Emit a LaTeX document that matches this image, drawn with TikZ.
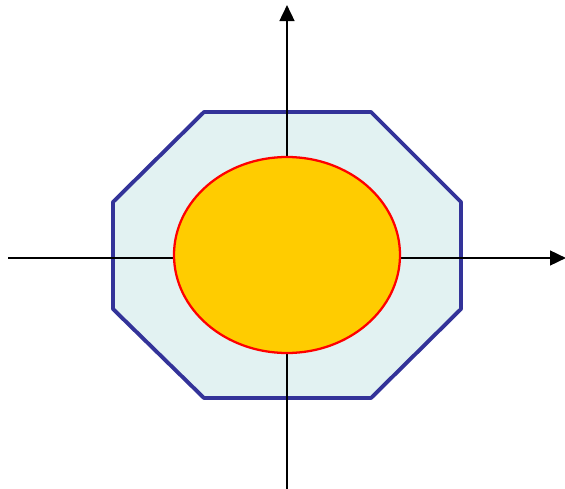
\documentclass[tikz,border=0pt]{standalone}
\usetikzlibrary{arrows.meta}
\definecolor{octfill}{HTML}{E2F2F2}
\definecolor{octline}{HTML}{333399}
\definecolor{discfill}{HTML}{FFCC00}
\tikzset{
  axis/.style={line width=1.9pt, -{Triangle[length=12pt,width=11pt]}},
  octagon/.style={fill=octfill, draw=octline, line width=2.9pt, line join=round},
  disc/.style={fill=discfill, draw=red, line width=1.7pt}
}
\begin{document}
\begin{tikzpicture}[x=0.75pt, y=-0.75pt]
    \useasboundingbox (0,0) rectangle (565,489);
    \draw[octagon] (204,112) -- (371,112) -- (461,202) -- (461,309) -- (371,398)
        -- (204,398) -- (113,309) -- (113,202) -- cycle;
    \coordinate (xl) at (8,258);
    \coordinate (xr) at (566,258);
    \coordinate (yb) at (287,489);
    \coordinate (yt) at (287,5);
    \draw[axis] (xl) -- (xr);
    \draw[axis] (yb) -- (yt);
    \draw[disc] (287,255) ellipse [x radius=113, y radius=98];
\end{tikzpicture}
\end{document}
